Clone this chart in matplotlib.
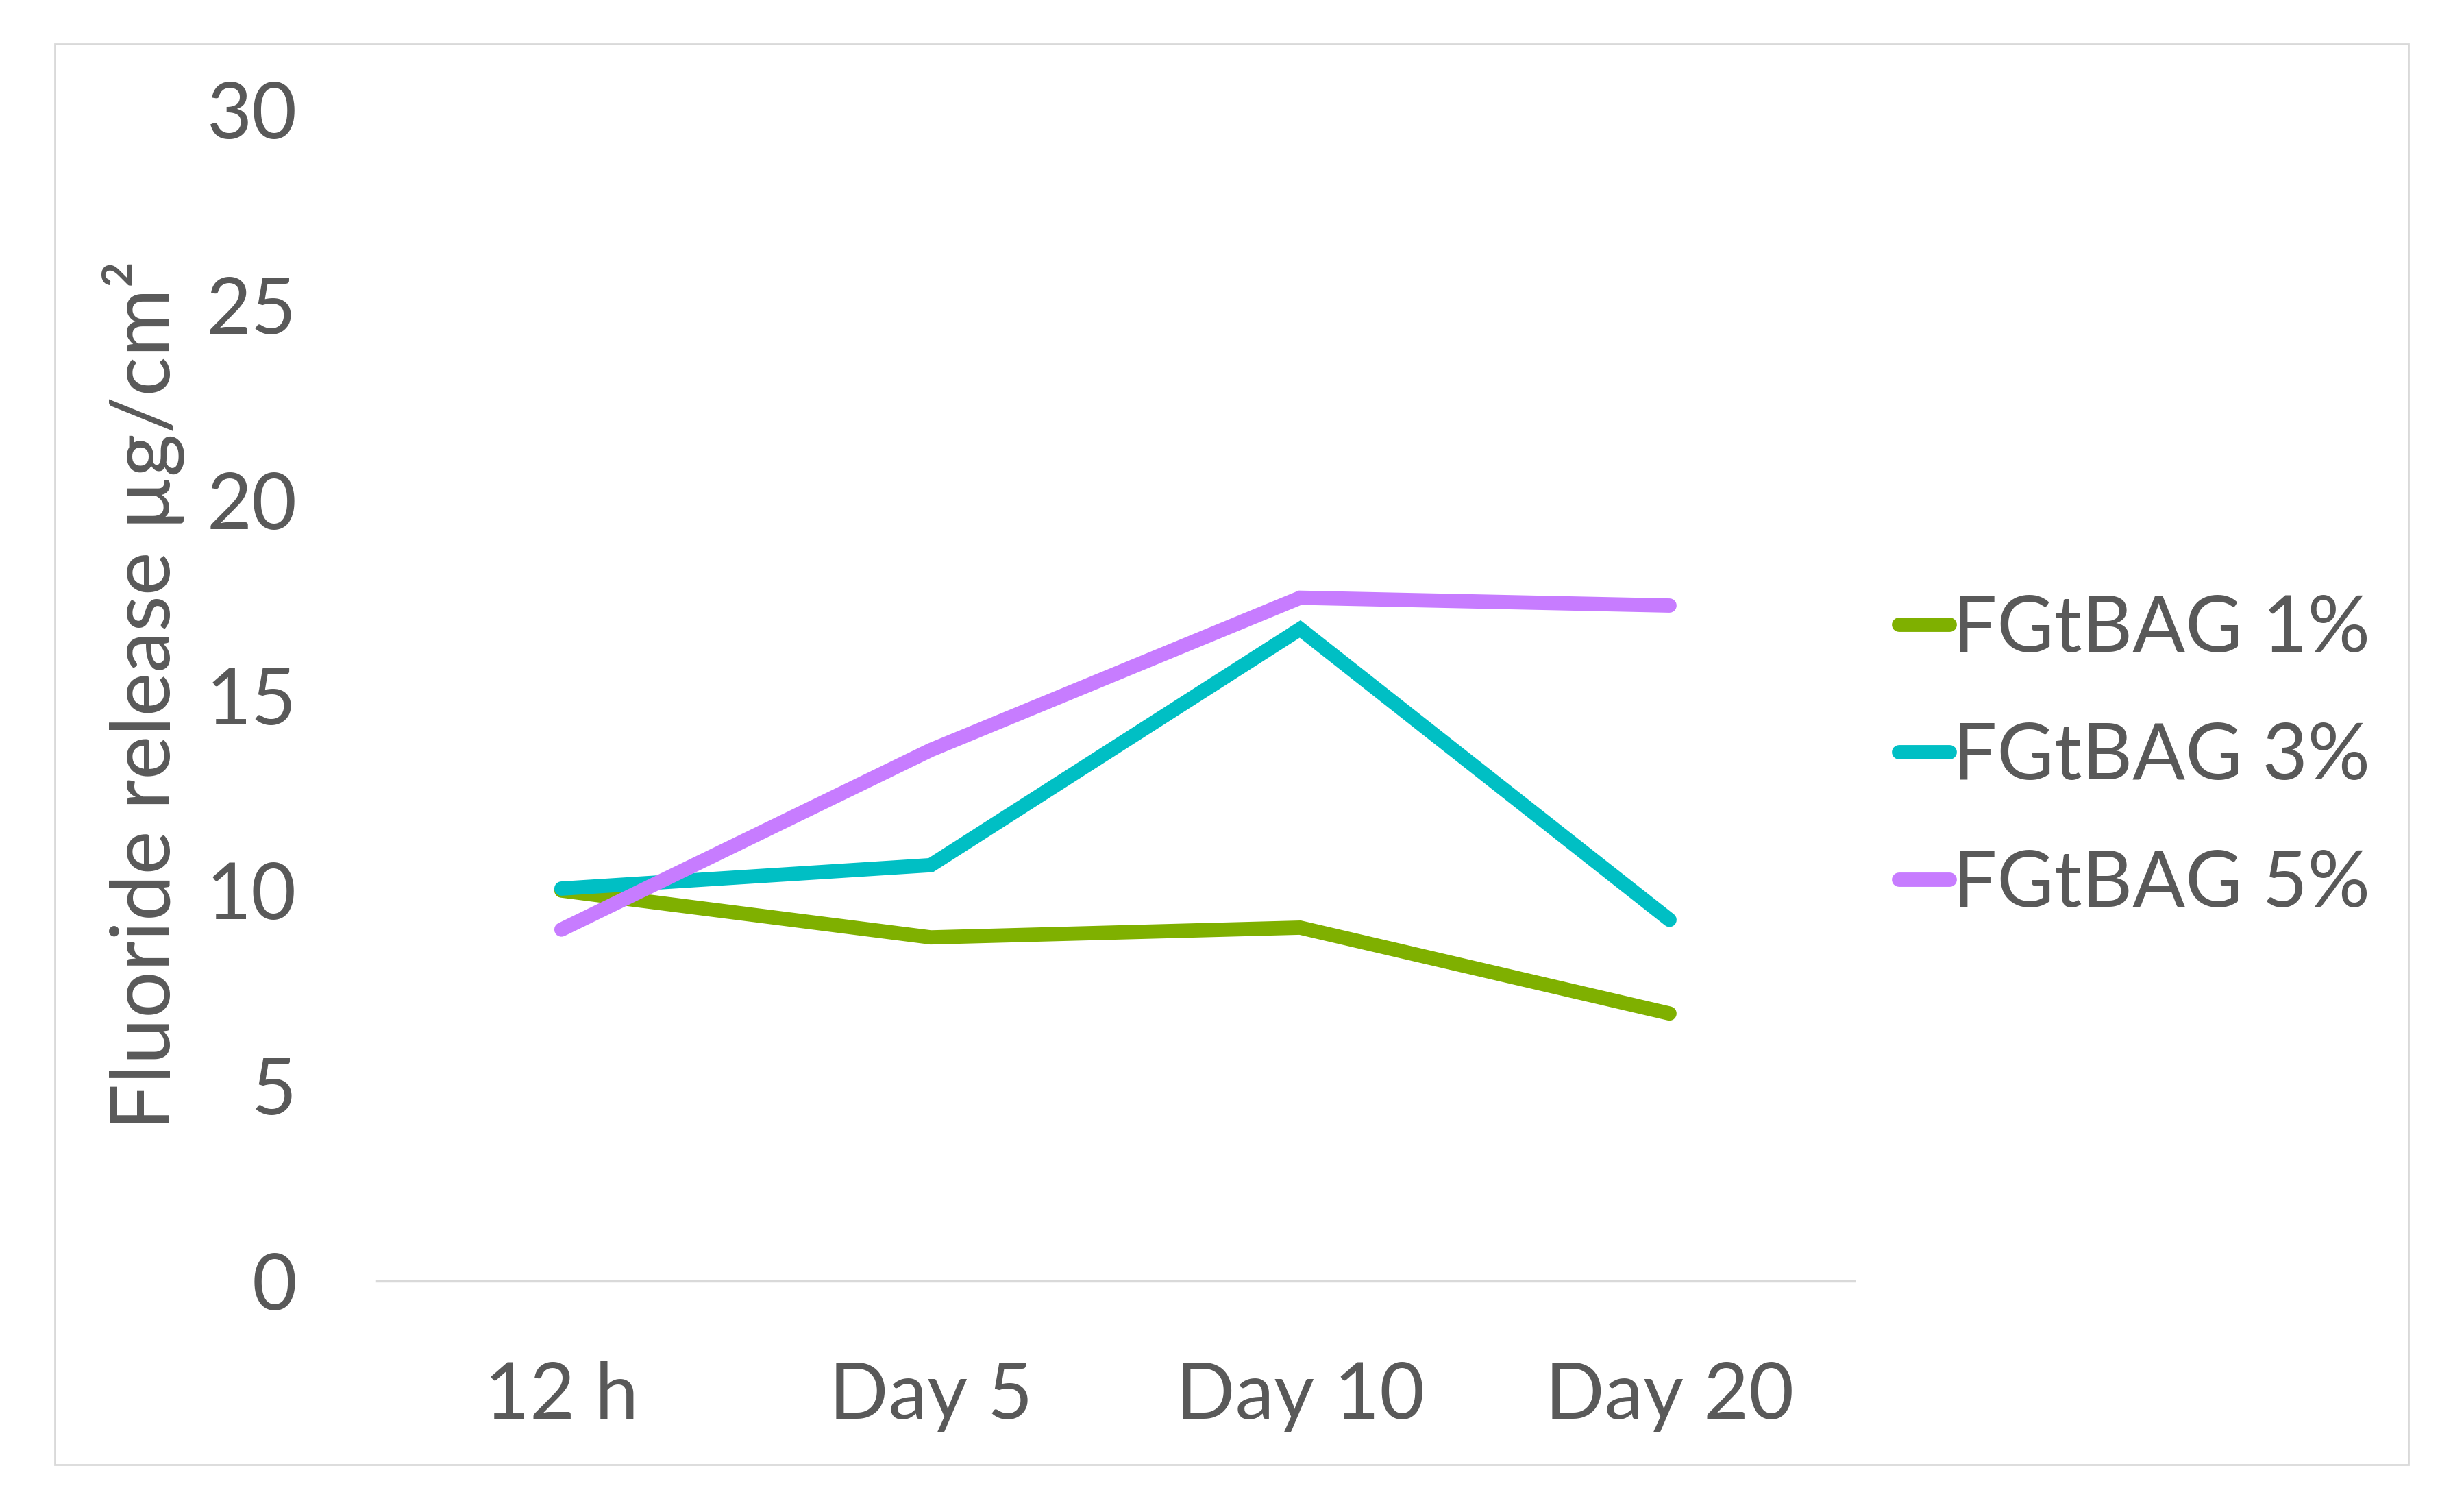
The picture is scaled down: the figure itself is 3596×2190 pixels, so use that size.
import matplotlib
matplotlib.use("Agg")
import matplotlib.pyplot as plt
import matplotlib.patches as pltp

plt.rcParams['font.family'] = ['Lato', 'DejaVu Sans']

categories = ["12 h", "Day 5", "Day 10", "Day 20"]
fgtbag_1 = [10.0, 8.8, 9.05, 6.85]
fgtbag_3 = [10.05, 10.65, 16.7, 9.25]
fgtbag_5 = [9.0, 13.6, 17.5, 17.3]
series_names = ["FGtBAG 1%", "FGtBAG 3%", "FGtBAG 5%"]
y_ticks = [0, 5, 10, 15, 20, 25, 30]

colors = ["#7FB000", "#00BFC4", "#C77CFF"]
text_color = "#595959"
grid_color = "#D9D9D9"

fig = plt.figure(figsize=(35.96, 21.9), dpi=100)
ax = fig.add_axes([0.1529, 0.1466, 0.5996, 0.7803])

x = range(len(categories))
for vals, name, col in zip([fgtbag_1, fgtbag_3, fgtbag_5], series_names, colors):
    ax.plot(x, vals, color=col, lw=15, label=name,
            solid_capstyle="round", solid_joinstyle="miter")

ax.set_xlim(-0.5, len(categories) - 0.5)
ax.set_ylim(0, 30)
ax.set_yticks(y_ticks)
ax.set_xticks(list(x))
ax.set_xticklabels(categories)

for s in ["top", "right", "left"]:
    ax.spines[s].set_visible(False)
ax.spines["bottom"].set_color(grid_color)
ax.spines["bottom"].set_linewidth(2.5)

ax.tick_params(axis="both", length=0, labelsize=82, colors=text_color)
ax.tick_params(axis="x", pad=84)
ax.tick_params(axis="y", pad=84)

ax.set_ylabel("Fluoride release µg/cm²", fontsize=87, color=text_color, labelpad=22)

fig.legend(loc="center left", bbox_to_anchor=(2668 / 3596, 1 - 1105 / 2190),
           frameon=False, fontsize=82, handlelength=0.65, handletextpad=0.05,
           labelspacing=0.72, labelcolor=text_color)

# outer chart border
fig.patches.append(pltp.Rectangle((80 / 3596, 1 - 2137 / 2190),
                                  (3515 - 80) / 3596, (2137 - 64) / 2190,
                                  transform=fig.transFigure, fill=False,
                                  edgecolor=grid_color, lw=2))

fig.savefig("out.png", dpi=100)
